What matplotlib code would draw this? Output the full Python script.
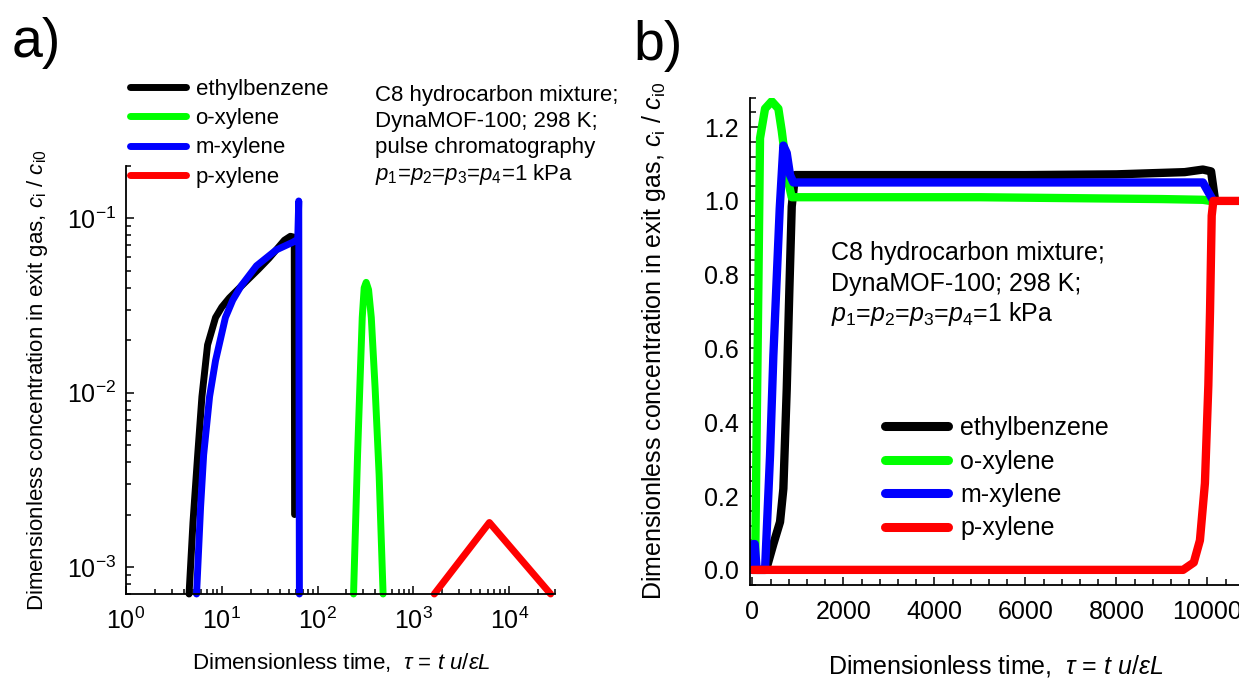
import matplotlib
matplotlib.use("Agg")
import matplotlib.pyplot as plt
from matplotlib.ticker import LogLocator, MultipleLocator, NullFormatter

plt.rcParams['font.family'] = ['Liberation Sans', 'DejaVu Sans']
plt.rcParams['mathtext.fontset'] = 'custom'
plt.rcParams['mathtext.rm'] = 'Liberation Sans'
plt.rcParams['mathtext.it'] = 'Liberation Sans:italic'
plt.rcParams['mathtext.bf'] = 'Liberation Sans:bold'
plt.rcParams['axes.unicode_minus'] = False

# %% data - panel a) pulse chromatography (log-log)
eb_tau_a = [4.55, 5.0, 5.6, 6.2, 7.1, 8.6, 10.0, 12.0, 17.5, 24.0, 31.0, 45.0, 52.0, 57.0, 57.5]
eb_c_a = [7e-4, 0.0018, 0.0044, 0.0095, 0.0188, 0.027, 0.031, 0.035, 0.043, 0.051, 0.059, 0.075, 0.079, 0.078, 0.002]
mx_tau_a = [5.45, 6.0, 6.46, 7.45, 8.6, 10.9, 13.0, 15.9, 23.0, 37.0, 55.0, 62.0, 63.5, 64.5]
mx_c_a = [7e-4, 0.0022, 0.0044, 0.0095, 0.0153, 0.027, 0.034, 0.041, 0.0535, 0.066, 0.073, 0.076, 0.126, 7e-4]
ox_tau_a = [237, 261, 278, 292, 306, 321, 340, 363, 398, 438, 482]
ox_c_a = [7e-4, 0.0044, 0.0124, 0.027, 0.040, 0.043, 0.039, 0.027, 0.0106, 0.0034, 7e-4]
px_tau_a = [1650, 6200, 27000]
px_c_a = [7e-4, 0.0018, 7e-4]

# %% data - panel b) breakthrough (linear)
eb_tau_b = [0, 300, 460, 607, 680, 754, 812, 864, 937, 1100, 3000, 6000, 8000, 9500, 9900, 10080, 10170]
eb_c_b = [0, 0, 0.07, 0.13, 0.22, 0.49, 0.76, 0.985, 1.07, 1.07, 1.07, 1.07, 1.072, 1.078, 1.085, 1.08, 1.0]
ox_tau_b = [0, 60, 95, 130, 167, 277, 424, 570, 644, 716, 790, 864, 1000, 5000, 9000, 9900, 10060]
ox_c_b = [0, 0.01, 0.40, 0.76, 1.17, 1.25, 1.27, 1.25, 1.19, 1.12, 1.05, 1.01, 1.01, 1.01, 1.005, 1.003, 1.0]
mx_tau_b = [0, 20, 50, 95, 277, 387, 460, 600, 680, 754, 827, 900, 1100, 5000, 9000, 9900, 10130]
mx_c_b = [0, 0.07, 0.07, 0.0, 0.0, 0.31, 0.58, 0.98, 1.15, 1.13, 1.07, 1.05, 1.05, 1.05, 1.05, 1.05, 1.0]
px_tau_b = [0, 9465, 9700, 9835, 9945, 10020, 10057, 10094, 10130, 12000]
px_c_b = [0, 0.0, 0.02, 0.08, 0.235, 0.5, 0.7, 0.96, 1.0, 1.0]

names = ['ethylbenzene', 'o-xylene', 'm-xylene', 'p-xylene']
colors = ['#000000', '#00ff00', '#0000ff', '#ff0000']

xlab = 'Dimensionless time,  $\\tau$ = $t\\ u/\\varepsilon L$'
ylab = 'Dimensionless concentration in exit gas, $c_\\mathrm{i}$ / $c_\\mathrm{i0}$'

W, H = 1239, 681
fig = plt.figure(figsize=(W / 100, H / 100), dpi=100)


def rect(x0, y0, x1, y1):
    # pixel box -> figure fraction
    return [x0 / W, 1 - y1 / H, (x1 - x0) / W, (y1 - y0) / H]


# %% panel a
ax1 = fig.add_axes(rect(126, 166, 555, 594))
h = {}
for n, x, y in [('ethylbenzene', eb_tau_a, eb_c_a), ('m-xylene', mx_tau_a, mx_c_a),
                ('o-xylene', ox_tau_a, ox_c_a), ('p-xylene', px_tau_a, px_c_a)]:
    h[n], = ax1.plot(x, y, color=colors[names.index(n)], lw=5,
                     solid_capstyle='round', solid_joinstyle='round', clip_on=False, label=n)
ax1.set_xscale('log')
ax1.set_yscale('log')
ax1.set_xlim(1, 3e4)
ax1.set_ylim(7e-4, 0.2)
ax1.xaxis.set_major_locator(LogLocator(base=10, numticks=10))
ax1.xaxis.set_minor_locator(LogLocator(base=10, subs=range(2, 10), numticks=20))
ax1.yaxis.set_minor_locator(LogLocator(base=10, subs=range(2, 10), numticks=20))
ax1.xaxis.set_minor_formatter(NullFormatter())
ax1.yaxis.set_minor_formatter(NullFormatter())
ax1.tick_params(which='both', direction='in', labelsize=18, width=1.1)
ax1.tick_params(which='major', length=6)
ax1.tick_params(which='minor', length=3.5)
ax1.tick_params(axis='x', pad=10)
ax1.tick_params(axis='y', pad=7)
for s in ['top', 'right']:
    ax1.spines[s].set_visible(False)
for s in ['left', 'bottom']:
    ax1.spines[s].set_linewidth(1.3)
ax1.set_xlabel(xlab, fontsize=16, va='center')
ax1.xaxis.set_label_coords(341 / W, 1 - 662 / H, transform=fig.transFigure)
ax1.set_ylabel(ylab, fontsize=16, va='center')
ax1.yaxis.set_label_coords(38 / W, 1 - 380 / H, transform=fig.transFigure)

leg1 = ax1.legend([h[n] for n in names], names, loc='upper left',
                  bbox_to_anchor=(130 / W, 1 - 79 / H), bbox_transform=fig.transFigure,
                  frameon=False, fontsize=16, handlelength=2.5, handletextpad=0.45,
                  labelspacing=0.37, borderpad=0, borderaxespad=0)
for lh in leg1.get_lines():
    lh.set_linewidth(5)
    lh.set_solid_capstyle('round')

ann_a = ['C8 hydrocarbon mixture;', 'DynaMOF-100; 298 K;', 'pulse chromatography',
         '$p_1$=$p_2$=$p_3$=$p_4$=1 kPa']
for i, t in enumerate(ann_a):
    fig.text(375 / W, 1 - (95 + 26.5 * i) / H, t, fontsize=16, va='center', ha='left')

fig.text(12 / W, 1 - 57 / H, 'a)', fontsize=40, va='baseline', ha='left')

# %% panel b
ax2 = fig.add_axes(rect(749.7, 97.6, 749.7 + 11660 * 0.0455, 585))
for n, x, y in [('ethylbenzene', eb_tau_b, eb_c_b), ('o-xylene', ox_tau_b, ox_c_b),
                ('m-xylene', mx_tau_b, mx_c_b), ('p-xylene', px_tau_b, px_c_b)]:
    h[n], = ax2.plot(x, y, color=colors[names.index(n)], lw=6,
                     solid_capstyle='round', solid_joinstyle='round', label=n)
ax2.set_xlim(-60, 11600)
ax2.set_ylim(-0.041, 1.28)
ax2.xaxis.set_major_locator(MultipleLocator(2000))
ax2.xaxis.set_minor_locator(MultipleLocator(400))
ax2.yaxis.set_major_locator(MultipleLocator(0.2))
ax2.yaxis.set_minor_locator(MultipleLocator(0.04))
ax2.yaxis.set_major_formatter(plt.FuncFormatter(lambda v, p: f'{v:.1f}'))
ax2.tick_params(which='both', direction='in', labelsize=18, width=1.1)
ax2.tick_params(which='major', length=6)
ax2.tick_params(which='minor', length=4)
ax2.tick_params(axis='x', pad=11)
ax2.tick_params(axis='y', pad=8)
for s in ['top', 'right']:
    ax2.spines[s].set_visible(False)
for s in ['left', 'bottom']:
    ax2.spines[s].set_linewidth(1.3)
ax2.set_xlabel(xlab, fontsize=18, va='center')
ax2.xaxis.set_label_coords(996 / W, 1 - 666 / H, transform=fig.transFigure)
ax2.set_ylabel(ylab, fontsize=18, va='center')
ax2.yaxis.set_label_coords(654 / W, 1 - 341 / H, transform=fig.transFigure)

leg2 = ax2.legend([h[n] for n in names], names, loc='upper left',
                  bbox_to_anchor=(885 / W, 1 - 416 / H), bbox_transform=fig.transFigure,
                  frameon=False, fontsize=18, handlelength=2.5, handletextpad=0.5,
                  labelspacing=0.38, borderpad=0, borderaxespad=0)
for lh in leg2.get_lines():
    lh.set_linewidth(6.5)
    lh.set_solid_capstyle('round')

ann_b = ['C8 hydrocarbon mixture;', 'DynaMOF-100; 298 K;', '$p_1$=$p_2$=$p_3$=$p_4$=1 kPa']
for i, t in enumerate(ann_b):
    fig.text(831 / W, 1 - (253 + 30.6 * i) / H, t, fontsize=18, va='center', ha='left')

fig.text(633 / W, 1 - 60 / H, 'b)', fontsize=40, va='baseline', ha='left')

fig.savefig('out.png', dpi=100)
